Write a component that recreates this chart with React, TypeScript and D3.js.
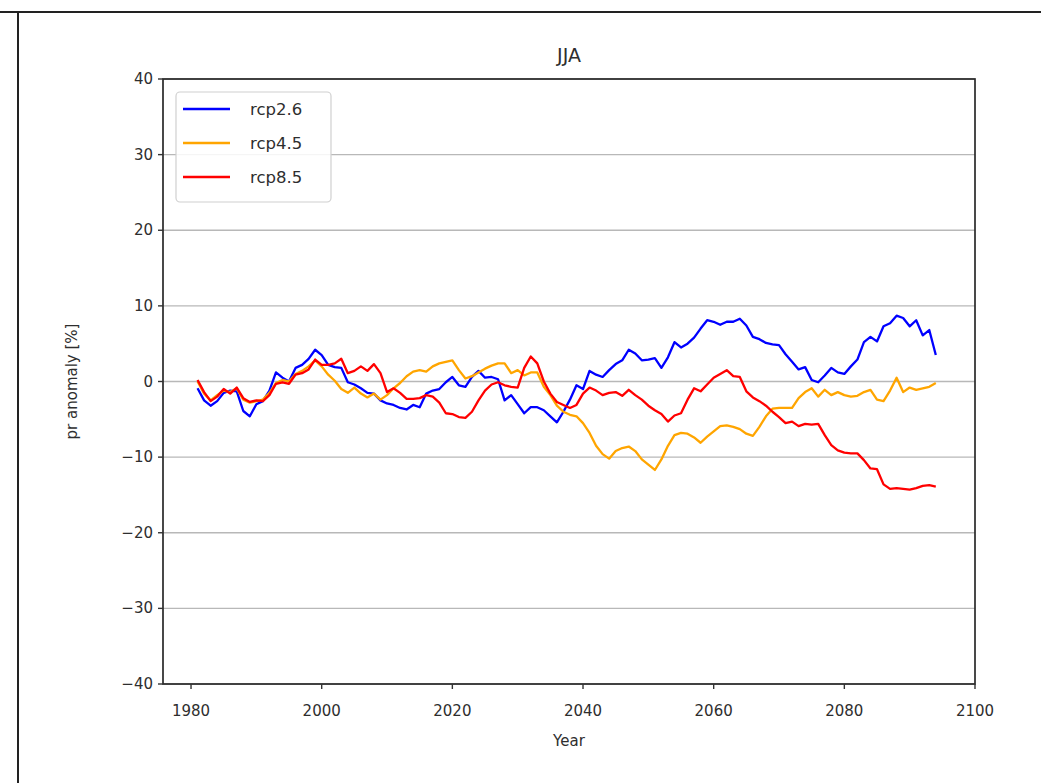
import React from "react";
import * as d3 from "d3";

const startYear = 1981;

const rcp26: number[] = [
  -0.9, -2.5, -3.2, -2.6, -1.5, -1.2, -1.3, -3.9, -4.6, -3.0,
  -2.6, -1.2, 1.2, 0.5, 0.0, 1.8, 2.2, 3.0, 4.2, 3.5,
  2.2, 1.9, 1.8, -0.1, -0.4, -0.9, -1.5, -1.6, -2.5, -2.9,
  -3.1, -3.5, -3.7, -3.1, -3.4, -1.6, -1.2, -1.0, -0.1, 0.6,
  -0.5, -0.7, 0.6, 1.4, 0.5, 0.6, 0.3, -2.5, -1.8, -3.0,
  -4.2, -3.4, -3.4, -3.8, -4.6, -5.4, -4.0, -2.4, -0.5, -1.0,
  1.4, 0.9, 0.6, 1.5, 2.3, 2.8, 4.2, 3.7, 2.8, 2.9,
  3.1, 1.8, 3.2, 5.2, 4.5, 5.0, 5.8, 7.0, 8.1, 7.9,
  7.5, 7.9, 7.9, 8.3, 7.4, 5.9, 5.6, 5.1, 4.9, 4.8,
  3.6, 2.6, 1.6, 1.9, 0.2, -0.1, 0.8, 1.8, 1.2, 1.0,
  2.0, 2.9, 5.2, 5.9, 5.3, 7.3, 7.7, 8.7, 8.4, 7.3,
  8.1, 6.1, 6.8, 3.5,
];

const rcp45: number[] = [
  0.0, -1.6, -2.5, -1.8, -1.2, -1.4, -0.9, -2.4, -2.8, -2.6,
  -2.4, -1.5, -0.2, 0.2, 0.0, 1.0, 1.4, 2.0, 2.8, 2.0,
  0.9, 0.1, -1.0, -1.5, -0.8, -1.6, -2.1, -1.6, -2.4, -1.8,
  -0.9, -0.2, 0.7, 1.3, 1.5, 1.3, 2.0, 2.4, 2.6, 2.8,
  1.5, 0.4, 0.7, 1.2, 1.7, 2.1, 2.4, 2.4, 1.1, 1.5,
  0.8, 1.2, 1.2, -0.7, -1.8, -3.2, -4.0, -4.4, -4.6, -5.5,
  -6.8, -8.5, -9.6, -10.2, -9.2, -8.8, -8.6, -9.2, -10.3, -11.0,
  -11.7, -10.3, -8.5, -7.1, -6.8, -6.9, -7.4, -8.1, -7.3, -6.6,
  -5.9, -5.8, -6.0, -6.3, -6.9, -7.2, -6.0, -4.6, -3.6, -3.5,
  -3.5, -3.5, -2.2, -1.4, -0.9, -2.0, -1.1, -1.8, -1.4, -1.8,
  -2.0, -1.9, -1.4, -1.1, -2.4, -2.6, -1.2, 0.5, -1.4, -0.8,
  -1.1, -0.9, -0.7, -0.2,
];

const rcp85: number[] = [
  0.2, -1.4, -2.6, -2.0, -1.0, -1.6, -0.8, -2.2, -2.7, -2.5,
  -2.6, -1.8, -0.3, -0.1, -0.3, 0.9, 1.1, 1.6, 2.9, 2.2,
  2.2, 2.4, 3.0, 1.1, 1.4, 2.0, 1.4, 2.3, 1.1, -1.4,
  -0.9, -1.5, -2.3, -2.3, -2.2, -1.8, -2.0, -2.8, -4.2, -4.3,
  -4.7, -4.8, -4.0, -2.5, -1.2, -0.4, -0.1, -0.5, -0.7, -0.8,
  1.8, 3.3, 2.4, 0.0, -1.6, -2.7, -3.1, -3.5, -3.1, -1.6,
  -0.8, -1.2, -1.8, -1.5, -1.4, -1.9, -1.1, -1.8, -2.4, -3.2,
  -3.8, -4.3, -5.3, -4.5, -4.2, -2.4, -0.9, -1.3, -0.4, 0.5,
  1.0, 1.5, 0.7, 0.6, -1.3, -2.1, -2.6, -3.2, -4.0, -4.7,
  -5.5, -5.3, -5.9, -5.6, -5.7, -5.6, -7.1, -8.4, -9.1, -9.4,
  -9.5, -9.5, -10.4, -11.5, -11.6, -13.6, -14.2, -14.1, -14.2, -14.3,
  -14.1, -13.8, -13.7, -13.9,
];

const seriesNames = ["rcp2.6", "rcp4.5", "rcp8.5"];
const seriesColors = ["#0000ff", "#ffa500", "#ff0000"];
const seriesValues = [rcp26, rcp45, rcp85];

const xTicks = [1980, 2000, 2020, 2040, 2060, 2080, 2100];
const yTicks = [-40, -30, -20, -10, 0, 10, 20, 30, 40];

const W = 1041;
const H = 783;
const plot = { left: 163, right: 975, top: 79, bottom: 684 };
const font = "'DejaVu Sans', sans-serif";

export default function App() {
  const x = d3.scaleLinear().domain([1975.71, 2100]).range([plot.left, plot.right]);
  const y = d3.scaleLinear().domain([-40, 40]).range([plot.bottom, plot.top]);
  const line = d3
    .line<number>()
    .x((_, i) => x(startYear + i))
    .y((d) => y(d));
  const fmt = (v: number) => (v < 0 ? "\u2212" + Math.abs(v) : String(v));

  return (
    <svg
      width={W}
      height={H}
      style={{ position: "absolute", left: 0, top: 0, background: "#fff" }}
      fontFamily={font}
    >
      <rect x={0} y={0} width={W} height={H} fill="#fff" />
      <line x1={0} x2={W} y1={12} y2={12} stroke="#222" strokeWidth={2} />
      <line x1={18} x2={18} y1={12} y2={H} stroke="#222" strokeWidth={2} />

      {yTicks.map((t) => (
        <line
          key={"g" + t}
          x1={plot.left}
          x2={plot.right}
          y1={y(t)}
          y2={y(t)}
          stroke="#b8b8b8"
          strokeWidth={1.4}
        />
      ))}

      {seriesValues.map((vals, k) => (
        <path
          key={seriesNames[k]}
          d={line(vals) || ""}
          fill="none"
          stroke={seriesColors[k]}
          strokeWidth={2.3}
          strokeLinejoin="round"
        />
      ))}

      <rect
        x={plot.left}
        y={plot.top}
        width={plot.right - plot.left}
        height={plot.bottom - plot.top}
        fill="none"
        stroke="#2a2a2a"
        strokeWidth={1.7}
      />

      {yTicks.map((t) => (
        <g key={"yt" + t}>
          <line x1={plot.left - 5} x2={plot.left} y1={y(t)} y2={y(t)} stroke="#333" strokeWidth={1.4} />
          <text x={plot.left - 10} y={y(t) + 5} textAnchor="end" fontSize={15} fill="#2e2e2e">
            {fmt(t)}
          </text>
        </g>
      ))}

      {xTicks.map((t) => (
        <g key={"xt" + t}>
          <line x1={x(t)} x2={x(t)} y1={plot.bottom} y2={plot.bottom + 5} stroke="#333" strokeWidth={1.4} />
          <text x={x(t)} y={716} textAnchor="middle" fontSize={15} fill="#2e2e2e">
            {t}
          </text>
        </g>
      ))}

      <text x={(plot.left + plot.right) / 2} y={746} textAnchor="middle" fontSize={15} fill="#2e2e2e">
        Year
      </text>
      <text
        transform={`translate(77, ${(plot.top + plot.bottom) / 2}) rotate(-90)`}
        textAnchor="middle"
        fontSize={15}
        fill="#2e2e2e"
      >
        pr anomaly [%]
      </text>

      <text x={(plot.left + plot.right) / 2} y={62} textAnchor="middle" fontSize={19} fill="#2e2e2e">
        JJA
      </text>

      <rect x={176} y={92} width={155} height={110} rx={4} fill="#fff" fillOpacity={0.85} stroke="#d0d0d0" strokeWidth={1.2} />
      {seriesNames.map((n, k) => {
        const ly = [109, 143, 177][k];
        return (
          <g key={"lg" + n}>
            <line x1={183} x2={230} y1={ly} y2={ly} stroke={seriesColors[k]} strokeWidth={2.3} />
            <text x={250} y={ly + 6} fontSize={16.5} fill="#2e2e2e">
              {n}
            </text>
          </g>
        );
      })}
    </svg>
  );
}
